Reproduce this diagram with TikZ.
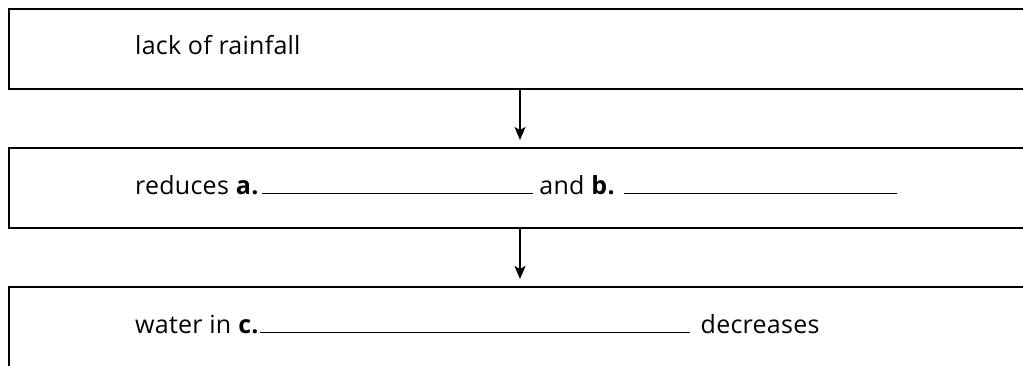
\documentclass[tikz,border=0pt]{standalone}
\usepackage{fontspec}
\setmainfont{Open Sans}[LetterSpace=1]
\usetikzlibrary{arrows.meta}

\tikzset{
  stepbox/.style={draw, line width=1.8pt, minimum width=1040pt,
    minimum height=80pt, anchor=north west, inner sep=0pt},
  steptext/.style={anchor=base west, inner sep=0pt,
    font=\fontsize{25}{30}\selectfont},
  flow/.style={-{Stealth[length=13pt,width=11pt,inset=3pt]}, line width=1.8pt,
    shorten >=7pt}
}
\newcommand{\blankline}[1]{\rule[-0.3pt]{#1}{1.4pt}}

\begin{document}
\begin{tikzpicture}[x=1pt,y=-1pt]
  \useasboundingbox (0,0) rectangle (1023,365);
  \clip (0,0) rectangle (1023,365);

  % boxes
  \node[stepbox] (rainfall) at (8,8) {};
  \node[stepbox] (soil) at (8,147) {};
  \node[stepbox] (water) at (8,286) {};

  % texts
  \node[steptext] (rainfalltext) at (135,54) {lack of rainfall};
  \node[steptext] (soiltext) at (135,194)
    {reduces \textbf{a.}\hspace{3pt}\blankline{271pt} and \textbf{b.} \blankline{273pt}};
  \node[steptext] (watertext) at (135,333)
    {water in \textbf{c.}\hspace{1pt}\blankline{430pt}\hspace{11pt}decreases};

  % arrows
  \coordinate (axis) at (520,0);
  \draw[flow] (rainfall.south -| axis) -- (soil.north -| axis);
  \draw[flow] (soil.south -| axis) -- (water.north -| axis);
\end{tikzpicture}
\end{document}
